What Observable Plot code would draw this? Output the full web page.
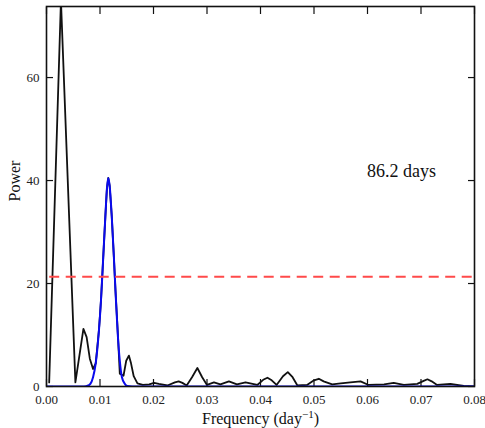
<!DOCTYPE html>
<html>
<head>
<meta charset="utf-8">
<script src="https://cdn.jsdelivr.net/npm/d3@7"></script>
<script src="https://cdn.jsdelivr.net/npm/@observablehq/plot@0.6"></script>
<style>
  html, body { margin: 0; padding: 0; background: #fff; }
  #chart svg { display: block; }
</style>
</head>
<body>
<div id="chart"></div>
<script>
// Periodogram (black)
const blackFreq = [0.0005, 0.0027, 0.0054, 0.0069, 0.0075, 0.0081, 0.0087,
  0.0092, 0.0098, 0.0102, 0.0106, 0.0110, 0.0113, 0.01155, 0.0118, 0.0122, 0.0126, 0.0129,
  0.0133, 0.0137, 0.0144, 0.0149, 0.0154, 0.0158, 0.0163, 0.0170, 0.0180,
  0.0192, 0.0201, 0.0210, 0.0226, 0.0240, 0.0247, 0.0254, 0.0262, 0.0272, 0.0282, 0.0291,
  0.0300, 0.0313, 0.0325, 0.0341, 0.0356, 0.0372, 0.0394, 0.0405, 0.0413, 0.0421, 0.0430,
  0.0442, 0.0451, 0.0460, 0.0469, 0.0487, 0.0500, 0.0509, 0.0518, 0.0534, 0.0550, 0.0568,
  0.0587, 0.0602, 0.0631, 0.0649, 0.0668, 0.0693, 0.0705, 0.0712, 0.0720, 0.0730, 0.0755,
  0.0780, 0.0800];
const blackPower = [0.8, 75, 0.8, 11.2, 9.6, 5.4, 3.4,
  4.5, 10.9, 17, 25, 33, 38.5, 40.5, 39, 33, 25, 18.5,
  11, 2.5, 2.1, 5.0, 6.0, 4.5, 2.0, 0.6, 0.3,
  0.4, 0.7, 0.5, 0.2, 0.8, 1.0, 0.7, 0.2, 1.8, 3.6, 1.8,
  0.3, 0.8, 0.4, 1.0, 0.4, 0.8, 0.3, 1.3, 1.7, 1.2, 0.3,
  2.0, 2.8, 1.8, 0.2, 0.3, 1.2, 1.5, 1.0, 0.4, 0.6, 0.8,
  1.0, 0.3, 0.4, 0.7, 0.3, 0.5, 1.1, 1.4, 1.0, 0.3, 0.5,
  0.1, 0.0];

// Fitted peak (blue)
const blueFreq = [0.0, 0.0070, 0.0078, 0.0082, 0.0087, 0.0092, 0.0098, 0.0102, 0.0106,
  0.0110, 0.0113, 0.01155, 0.0118, 0.0122, 0.0126, 0.0129, 0.0133, 0.0137, 0.0141,
  0.0146, 0.0151, 0.0160, 0.0800];
const bluePower = [0, 0, 0.2, 0.5, 1.8, 4.5, 10.9, 17, 25,
  33, 38.5, 40.5, 39, 33, 25, 18.5, 10.5, 5, 1.8,
  0.6, 0.1, 0, 0];

// Significance threshold (red dashed)
const threshold = [21.3];

// Axis ticks
const xTicks = [0, 0.01, 0.02, 0.03, 0.04, 0.05, 0.06, 0.07, 0.08];
const yTicks = [0, 20, 40, 60];
const xDomain = [0, 0.08];
const yDomain = [0, 73.8];

// Annotation
const annotText = ["86.2 days"];
const annotFreq = [0.0599];
const annotPower = [41.9];

const xLabel = "Frequency (day-1)";
const yLabel = "Power";

const black = blackFreq.map((f, i) => ({f, p: blackPower[i]}));
const blue = blueFreq.map((f, i) => ({f, p: bluePower[i]}));
const annot = annotText.map((t, i) => ({t, f: annotFreq[i], p: annotPower[i]}));

const font = "'Liberation Serif', 'Times New Roman', serif";
const tk = 7;

const plot = Plot.plot({
  width: 485,
  height: 428,
  marginLeft: 46,
  marginRight: 11,
  marginTop: 6,
  marginBottom: 42,
  style: {fontFamily: font, fontSize: "13px", color: "#222", background: "#fff"},
  x: {domain: xDomain, axis: null},
  y: {domain: yDomain, axis: null},
  marks: [
    // tick labels
    Plot.axisX(xTicks, {anchor: "bottom", tickSize: 0, tickPadding: 8, tickFormat: d3.format(".2f"), label: null, fontSize: 13, fontFamily: font, fill: "#222"}),
    Plot.axisY(yTicks, {anchor: "left", tickSize: 0, tickPadding: 7, label: null, fontSize: 13, fontFamily: font, fill: "#222"}),
    // inward ticks on all sides (outward ticks shifted inside)
    Plot.axisX(xTicks, {anchor: "bottom", tickSize: tk, dy: -tk, fill: "none", label: null, stroke: "#111", strokeWidth: 1.2}),
    Plot.axisX(xTicks, {anchor: "top", tickSize: tk, dy: tk, fill: "none", label: null, stroke: "#111", strokeWidth: 1.2}),
    Plot.axisY(yTicks, {anchor: "left", tickSize: tk, dx: tk, fill: "none", label: null, stroke: "#111", strokeWidth: 1.2}),
    Plot.axisY(yTicks, {anchor: "right", tickSize: tk, dx: -tk, fill: "none", label: null, stroke: "#111", strokeWidth: 1.2}),
    // series
    Plot.line(black, {x: "f", y: "p", stroke: "#111", strokeWidth: 1.8, clip: true}),
    Plot.line(blue, {x: "f", y: "p", stroke: "#0a0aee", strokeWidth: 2, curve: "monotone-x", clip: true}),
    Plot.ruleY(threshold, {stroke: "#ff4a4a", strokeWidth: 2, strokeDasharray: "10,6.5", x1: 0.0006, x2: 0.08}),
    Plot.frame({stroke: "#111", strokeWidth: 1.6}),
    // annotation
    Plot.text(annot, {x: "f", y: "p", text: "t", textAnchor: "start", fontSize: 18, fill: "#111"}),
    // axis labels
    Plot.text([xLabel], {frameAnchor: "bottom", dy: 37, fontSize: 16, fill: "#111", className: "xlab"}),
    Plot.text([yLabel], {frameAnchor: "left", dx: -32, dy: 5, rotate: -90, fontSize: 16, fill: "#111"})
  ]
});

document.getElementById("chart").appendChild(plot);

// render superscript in x label
const xl = Array.from(plot.querySelectorAll("text")).find(t => t.textContent === xLabel);
if (xl) {
  xl.textContent = "";
  const ns = "http://www.w3.org/2000/svg";
  const a = document.createElementNS(ns, "tspan");
  a.textContent = "Frequency (day";
  const b = document.createElementNS(ns, "tspan");
  b.textContent = "\u22121";
  b.setAttribute("font-size", "11");
  b.setAttribute("dy", "-6");
  const c = document.createElementNS(ns, "tspan");
  c.textContent = ")";
  c.setAttribute("dy", "6");
  xl.append(a, b, c);
}
</script>
</body>
</html>
